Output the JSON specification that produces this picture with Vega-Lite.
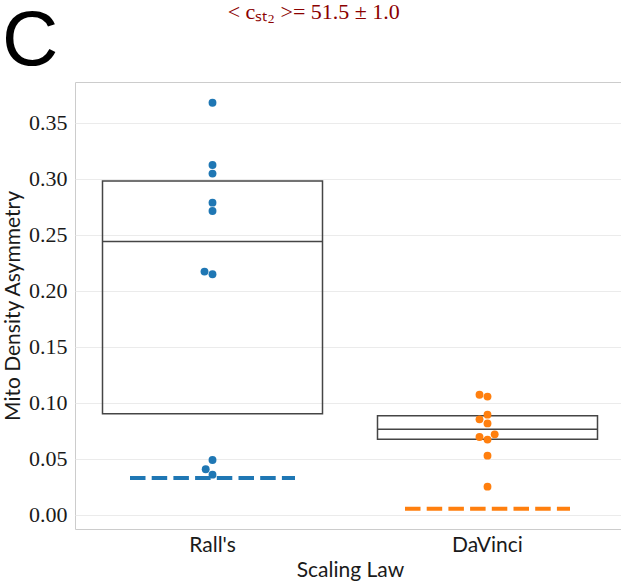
{
  "$schema": "https://vega.github.io/schema/vega-lite/v6.json",
  "background": "white",
  "padding": {"left": 2, "top": 0, "right": 0, "bottom": 0},
  "title": {"text": "C", "anchor": "start", "frame": "bounds", "font": "Liberation Sans", "fontSize": 78, "fontWeight": "normal", "color": "black", "offset": -80},
  "datasets": {
    "points": [
      {"law": "Rall's", "value": 0.3681, "slot": 0},
      {"law": "Rall's", "value": 0.3125, "slot": 0},
      {"law": "Rall's", "value": 0.3048, "slot": 0},
      {"law": "Rall's", "value": 0.2789, "slot": 0},
      {"law": "Rall's", "value": 0.2714, "slot": 0},
      {"law": "Rall's", "value": 0.2173, "slot": -1},
      {"law": "Rall's", "value": 0.2149, "slot": 0},
      {"law": "Rall's", "value": 0.0491, "slot": 0},
      {"law": "Rall's", "value": 0.0408, "slot": -0.85},
      {"law": "Rall's", "value": 0.0360, "slot": 0},
      {"law": "DaVinci", "value": 0.1074, "slot": -1},
      {"law": "DaVinci", "value": 0.1057, "slot": 0},
      {"law": "DaVinci", "value": 0.0896, "slot": 0},
      {"law": "DaVinci", "value": 0.0854, "slot": -1},
      {"law": "DaVinci", "value": 0.0818, "slot": 0},
      {"law": "DaVinci", "value": 0.0720, "slot": 0.9},
      {"law": "DaVinci", "value": 0.0696, "slot": -1},
      {"law": "DaVinci", "value": 0.0673, "slot": 0},
      {"law": "DaVinci", "value": 0.0530, "slot": 0},
      {"law": "DaVinci", "value": 0.0253, "slot": 0}
    ],
    "boxes": [
      {"law": "Rall's", "q1": 0.0905, "median": 0.2443, "q3": 0.2982},
      {"law": "DaVinci", "q1": 0.0676, "median": 0.0765, "q3": 0.0887}
    ],
    "refs": [
      {"law": "Rall's", "ref": 0.0330},
      {"law": "DaVinci", "ref": 0.0056}
    ]
  },
  "vconcat": [
    {
      "width": 550,
      "height": 447,
      "title": {"text": "< cₛₜ₂ >= 51.5 ± 1.0", "anchor": "middle", "frame": "bounds", "font": "Liberation Serif", "fontSize": 22, "fontWeight": "normal", "color": "#8b0000", "offset": 58},
      "encoding": {
        "x": {"field": "law", "type": "nominal", "sort": ["Rall's", "DaVinci"], "title": "Scaling Law"},
        "y": {"type": "quantitative", "title": "Mito Density Asymmetry",
              "scale": {"domain": [-0.0125, 0.3866], "nice": false, "zero": false},
              "axis": {"values": [0, 0.05, 0.1, 0.15, 0.2, 0.25, 0.3, 0.35], "format": ".2f"}}
      },
      "layer": [
        {
          "data": {"name": "boxes"},
          "mark": {"type": "rect", "filled": false, "stroke": "#454545", "strokeWidth": 1.5},
          "encoding": {
            "x": {"field": "law", "type": "nominal", "sort": ["Rall's", "DaVinci"], "bandPosition": 0.1},
            "x2": {"field": "law", "bandPosition": 0.9},
            "y": {"field": "q3", "type": "quantitative"},
            "y2": {"field": "q1"}
          }
        },
        {
          "data": {"name": "boxes"},
          "mark": {"type": "rule", "stroke": "#454545", "strokeWidth": 1.5},
          "encoding": {
            "x": {"field": "law", "type": "nominal", "sort": ["Rall's", "DaVinci"], "bandPosition": 0.1},
            "x2": {"field": "law", "bandPosition": 0.9},
            "y": {"field": "median", "type": "quantitative"}
          }
        },
        {
          "data": {"name": "refs"},
          "mark": {"type": "rule", "strokeWidth": 4, "strokeDash": [15.5, 6.2], "strokeCap": "butt"},
          "encoding": {
            "x": {"field": "law", "type": "nominal", "sort": ["Rall's", "DaVinci"], "bandPosition": 0.2},
            "x2": {"field": "law", "bandPosition": 0.8},
            "y": {"field": "ref", "type": "quantitative"},
            "color": {"field": "law", "type": "nominal", "scale": {"domain": ["Rall's", "DaVinci"], "range": ["#1f77b4", "#ff7f0e"]}, "legend": null}
          }
        },
        {
          "data": {"name": "points"},
          "mark": {"type": "circle", "size": 62, "opacity": 1},
          "encoding": {
            "x": {"field": "law", "type": "nominal", "sort": ["Rall's", "DaVinci"]},
            "xOffset": {"field": "slot", "type": "quantitative", "scale": {"domain": [-17.2, 17.2]}},
            "y": {"field": "value", "type": "quantitative"},
            "color": {"field": "law", "type": "nominal", "scale": {"domain": ["Rall's", "DaVinci"], "range": ["#1f77b4", "#ff7f0e"]}, "legend": null}
          }
        }
      ]
    }
  ],
  "config": {
    "view": {"stroke": "#cccccc", "strokeWidth": 1},
    "scale": {"bandPaddingInner": 0, "bandPaddingOuter": 0},
    "axisX": {
      "labelAngle": 0, "ticks": false, "domain": false, "grid": false,
      "labelFont": "Lato", "labelFontSize": 21, "labelColor": "#1a1a1a", "labelPadding": 5,
      "titleFont": "Lato", "titleFontSize": 21, "titleFontWeight": "normal", "titleColor": "#1a1a1a", "titlePadding": 4
    },
    "axisY": {
      "ticks": false, "domain": false, "gridColor": "#ebebeb", "gridWidth": 1,
      "labelFont": "Liberation Serif", "labelFontSize": 22, "labelColor": "#1a1a1a", "labelPadding": 8,
      "titleFont": "Lato", "titleFontSize": 21, "titleFontWeight": "normal", "titleColor": "#1a1a1a", "titlePadding": 5
    }
  }
}
